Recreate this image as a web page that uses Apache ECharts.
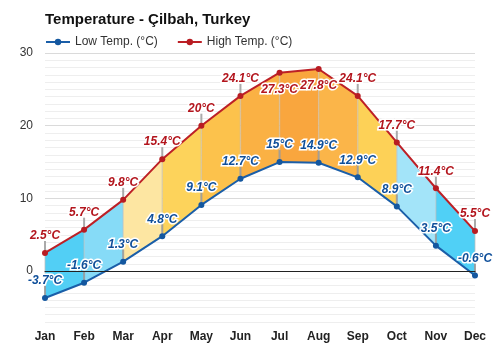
<!DOCTYPE html>
<html>
<head>
<meta charset="utf-8">
<script src="https://cdn.jsdelivr.net/npm/echarts@6/dist/echarts.min.js"></script>
<style>html,body{margin:0;padding:0;background:#fff}#c{width:500px;height:350px}</style>
</head>
<body>
<div id="c"></div>
<script>
const months = ['Jan','Feb','Mar','Apr','May','Jun','Jul','Aug','Sep','Oct','Nov','Dec'];
const lowTemps = [-3.7, -1.6, 1.3, 4.8, 9.1, 12.7, 15, 14.9, 12.9, 8.9, 3.5, -0.6];
const highTemps = [2.5, 5.7, 9.8, 15.4, 20, 24.1, 27.3, 27.8, 24.1, 17.7, 11.4, 5.5];
const highLabelBelow = ['Jul', 'Aug'];
const segColors = ['#52cff5','#86dbf7','#fde6a2','#fdd35b','#fcc24c','#fab144','#f9a63e','#fbb549','#fdd157','#a3e4f9','#50d0f6'];
const yTicks = [0, 10, 20, 30];

const FONT = '"Liberation Sans", Arial, sans-serif';
const n = months.length;
const bandData = months.map((m, i) => [i, lowTemps[i], highTemps[i],
  i < n - 1 ? lowTemps[i + 1] : lowTemps[i], i < n - 1 ? highTemps[i + 1] : highTemps[i]]);

const chart = echarts.init(document.getElementById('c'), null, {renderer: 'canvas'});
const labelBase = {show: true, position: 'top', distance: 8, fontFamily: FONT, fontSize: 12,
  fontWeight: 'bold', fontStyle: 'italic', textBorderColor: '#fff', textBorderWidth: 3,
  formatter: p => p.value + '°C'};

chart.setOption({
  animation: false,
  title: {text: 'Temperature - Çilbah, Turkey', left: 40, top: 7,
    textStyle: {fontFamily: FONT, fontSize: 15, fontWeight: 'bold', color: '#111'}},
  legend: {left: 40, top: 31, itemWidth: 24, itemHeight: 8, itemGap: 19,
    textStyle: {fontFamily: FONT, fontSize: 12, color: '#333'},
    data: ['Low Temp. (°C)', 'High Temp. (°C)']},
  grid: [
    {left: 45, right: 25, top: 53, bottom: 28},
    {left: 45, right: 25, top: 53, bottom: 79}
  ],
  xAxis: [
    {type: 'category', gridIndex: 0, data: months, boundaryGap: false,
      axisLine: {show: false}, axisTick: {show: false}, splitLine: {show: false},
      axisLabel: {margin: 9, fontFamily: FONT, fontSize: 12, fontWeight: 'bold', color: '#222'}},
    {type: 'category', gridIndex: 1, data: months, boundaryGap: false, z: 10,
      axisLine: {show: true, onZero: false, lineStyle: {color: '#222', width: 1}},
      axisTick: {show: false}, axisLabel: {show: false}, splitLine: {show: false}}
  ],
  yAxis: [
    {type: 'value', gridIndex: 0, min: -7, max: 30, interval: 1,
      axisLine: {show: false}, axisTick: {show: false}, axisLabel: {show: false},
      splitLine: {show: true, lineStyle: {color: '#eeeeee', width: 1}}},
    {type: 'value', gridIndex: 1, min: yTicks[0], max: yTicks[yTicks.length - 1], interval: 10,
      axisLine: {show: false}, axisTick: {show: false},
      axisLabel: {margin: 12, fontFamily: FONT, fontSize: 12, color: '#333'},
      splitLine: {show: true, lineStyle: {color: '#dadada', width: 1}}}
  ],
  series: [
    {type: 'custom', xAxisIndex: 0, yAxisIndex: 0, z: 1, silent: true,
      encode: {x: 0, y: [1, 2, 3, 4]},
      data: bandData,
      renderItem: function (params, api) {
        const i = api.value(0);
        const children = [];
        if (i < n - 1) {
          const a = api.coord([i, api.value(2)]);
          const b = api.coord([i + 1, api.value(4)]);
          const c = api.coord([i + 1, api.value(3)]);
          const d = api.coord([i, api.value(1)]);
          children.push({type: 'polygon', shape: {points: [a, b, c, d]}, style: {fill: segColors[i]}});
        }
        const top = api.coord([i, api.value(2)]);
        const bot = api.coord([i, api.value(1)]);
        children.push({type: 'line', shape: {x1: top[0], y1: top[1], x2: bot[0], y2: bot[1]},
          style: {stroke: 'rgba(190,190,190,0.5)', lineWidth: 1.5}});
        children.push({type: 'line', shape: {x1: bot[0], y1: bot[1] - 12, x2: bot[0], y2: bot[1]},
          style: {stroke: 'rgba(150,150,150,0.8)', lineWidth: 2}});
        if (highLabelBelow.indexOf(months[i]) < 0) {
          children.push({type: 'line', shape: {x1: top[0], y1: top[1] - 12, x2: top[0], y2: top[1]},
            style: {stroke: '#aaaaaa', lineWidth: 2}});
        }
        return {type: 'group', children: children};
      }
    },
    {name: 'Low Temp. (°C)', type: 'line', xAxisIndex: 0, yAxisIndex: 0, z: 5,
      data: lowTemps, symbol: 'circle', symbolSize: 6,
      lineStyle: {color: '#1a5ea8', width: 2}, itemStyle: {color: '#14579f'},
      label: Object.assign({}, labelBase, {color: '#0f4f9a'})},
    {name: 'High Temp. (°C)', type: 'line', xAxisIndex: 0, yAxisIndex: 0, z: 5,
      data: highTemps.map((v, i) => highLabelBelow.indexOf(months[i]) >= 0
        ? {value: v, label: {position: 'bottom'}} : v),
      symbol: 'circle', symbolSize: 6,
      lineStyle: {color: '#bd2026', width: 2}, itemStyle: {color: '#b81c22'},
      label: Object.assign({}, labelBase, {color: '#b3151d'})}
  ]
});
</script>
</body>
</html>
